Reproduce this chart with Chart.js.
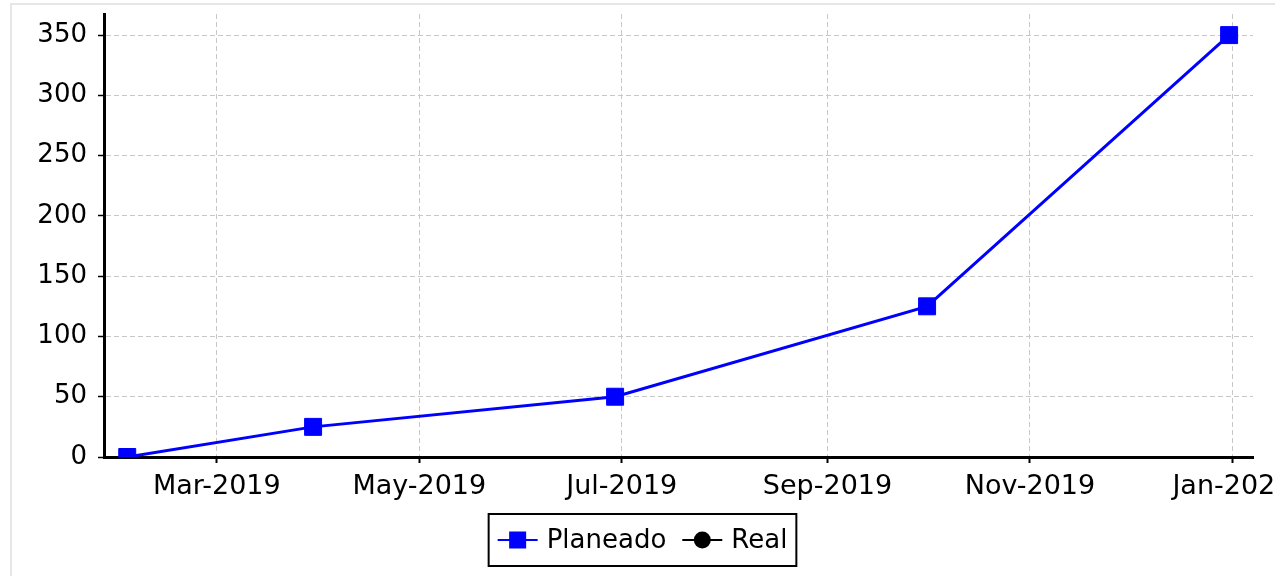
<!DOCTYPE html>
<html><head><meta charset="utf-8">
<script src="https://cdn.jsdelivr.net/npm/chart.js@4"></script>
<style>
html,body{margin:0;padding:0;background:#fff;overflow:hidden;width:1275px;height:576px;}
#frame{position:absolute;left:10px;top:3px;width:1400px;height:700px;border:2px solid #e6e6e6;box-sizing:border-box;}
#c{position:absolute;left:0;top:0;}
</style></head><body>
<div id="frame"></div>
<canvas id="c" width="1275" height="576"></canvas>
<script>
// ---- data ----
const dates = ['2019-02-02', '2019-03-30', '2019-06-29', '2019-10-01', '2019-12-31'];
const planeado = [0, 25, 50, 125, 350];
const real = [];
const seriesNames = ['Planeado', 'Real'];
const xTickDates = ['2019-03-01', '2019-05-01', '2019-07-01', '2019-09-01', '2019-11-01', '2020-01-01'];
const xTickLabels = ['Mar-2019', 'May-2019', 'Jul-2019', 'Sep-2019', 'Nov-2019', 'Jan-2020'];
const yTicks = [0, 50, 100, 150, 200, 250, 300, 350];

const toMs = s => Date.parse(s + 'T00:00:00Z');
const DAY = 86400000;
const FAMILY = '"DejaVu Sans", Verdana, sans-serif';

const boxLegend = {
  id: 'boxLegend',
  afterDraw(chart) {
    const ctx = chart.ctx;
    ctx.save();
    ctx.font = '26px "DejaVu Sans"';
    const items = chart.data.datasets.map(ds => ({ds, w: ctx.measureText(ds.label).width}));
    const markW = 40, gap = 9, itemGap = 16, padX = 9;
    let contentW = 0;
    items.forEach((it, i) => { contentW += markW + gap + it.w + (i ? itemGap : 0); });
    const boxW = contentW + 2 * padX;
    const cx = 642.5, top = 514, h = 52;
    const left = cx - boxW / 2;
    ctx.lineWidth = 2; ctx.strokeStyle = '#000';
    ctx.strokeRect(left, top, boxW, h);
    let x = left + padX;
    const y = top + h / 2;
    items.forEach(({ds, w}, i) => {
      if (i) x += itemGap;
      ctx.strokeStyle = ds.borderColor; ctx.lineWidth = 2;
      ctx.beginPath(); ctx.moveTo(x, y); ctx.lineTo(x + markW, y); ctx.stroke();
      ctx.fillStyle = ds.pointBackgroundColor;
      const mx = x + markW / 2;
      if (ds.pointStyle === 'rect') {
        ctx.fillRect(mx - 8.5, y - 8.5, 17, 17);
      } else {
        ctx.beginPath(); ctx.arc(mx, y, 8.5, 0, Math.PI * 2); ctx.fill();
      }
      ctx.fillStyle = '#000'; ctx.textBaseline = 'middle'; ctx.textAlign = 'left';
      ctx.fillText(ds.label, x + markW + gap, y + 1);
      x += markW + gap + w;
    });
    ctx.restore();
  }
};

new Chart(document.getElementById('c'), {
  type: 'line',
  data: {
    datasets: [
      {
        label: seriesNames[0],
        data: dates.map((d, i) => ({x: toMs(d), y: planeado[i]})),
        borderColor: '#0000ff', backgroundColor: '#0000ff', borderWidth: 3,
        pointStyle: 'rect', pointRadius: 12, pointBorderWidth: 1,
        pointBackgroundColor: '#0000ff', pointBorderColor: '#0000ff', tension: 0
      },
      {
        label: seriesNames[1],
        data: real,
        borderColor: '#000000', backgroundColor: '#000000', borderWidth: 3,
        pointStyle: 'circle', pointRadius: 8, pointBackgroundColor: '#000000', pointBorderColor: '#000000'
      }
    ]
  },
  options: {
    responsive: false, animation: false, devicePixelRatio: 1,
    layout: {autoPadding: false, padding: {left: 0, top: 14, right: 22, bottom: 0}},
    plugins: {legend: {display: false}, tooltip: {enabled: false}},
    scales: {
      x: {
        type: 'linear',
        min: toMs('2019-01-26'), max: toMs('2020-01-07') + 0.2 * DAY,
        afterBuildTicks: s => { s.ticks = xTickDates.map(d => ({value: toMs(d)})); },
        afterFit: s => { s.height = 119; s.paddingLeft = 0; s.paddingRight = 0; s.paddingTop = 0; s.paddingBottom = 0; },
        ticks: {callback: (v, i) => xTickLabels[i], color: '#000', font: {family: FAMILY, size: 27}, padding: 8, maxRotation: 0, autoSkip: false},
        grid: {color: '#c8c8c8', tickColor: '#000', tickLength: 6, tickWidth: 2, lineWidth: 1},
        border: {color: '#000', width: 3, dash: [5, 3]}
      },
      y: {
        min: 0, max: 367.5,
        afterBuildTicks: s => { s.ticks = yTicks.map(v => ({value: v})); },
        afterFit: s => { s.width = 104; s.paddingLeft = 0; s.paddingRight = 0; s.paddingTop = 0; s.paddingBottom = 0; },
        ticks: {color: '#000', font: {family: FAMILY, size: 26}, padding: 11},
        grid: {color: '#c8c8c8', tickColor: '#000', tickLength: 6, tickWidth: 1.5, lineWidth: 1},
        border: {color: '#000', width: 3, dash: [5, 3]}
      }
    }
  },
  plugins: [boxLegend]
});
</script>
</body></html>
